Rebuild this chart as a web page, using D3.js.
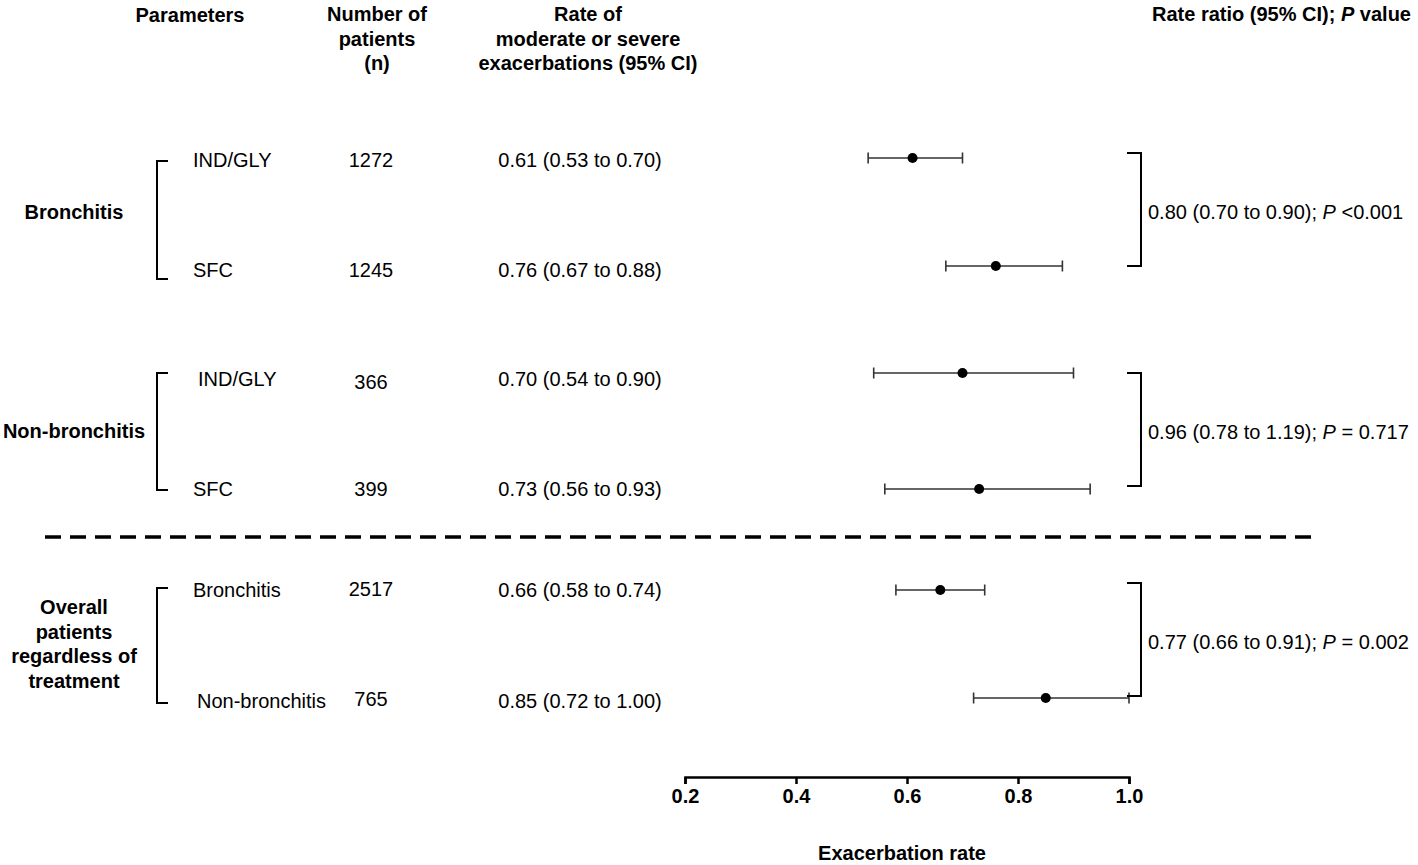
<!DOCTYPE html>
<html>
<head>
<meta charset="utf-8">
<script src="https://cdn.jsdelivr.net/npm/d3@7"></script>
<style>
  html, body { margin: 0; padding: 0; background: #fff; }
  svg { display: block; }
  text { font-family: "Liberation Sans", Arial, Helvetica, sans-serif; fill: #000; }
</style>
</head>
<body>
<svg id="chart" width="1418" height="865"></svg>
<script>
// ---------------- data ----------------
const headers = ["Parameters", "Number of patients (n)", "Rate of moderate or severe exacerbations (95% CI)", "Rate ratio (95% CI); P value"];
const groups = ["Bronchitis", "Non-bronchitis", "Overall patients regardless of treatment"];
const subgroups = ["IND/GLY", "SFC", "IND/GLY", "SFC", "Bronchitis", "Non-bronchitis"];
const patients = [1272, 1245, 366, 399, 2517, 765];
const rates = [0.61, 0.76, 0.70, 0.73, 0.66, 0.85];
const lower = [0.53, 0.67, 0.54, 0.56, 0.58, 0.72];
const upper = [0.70, 0.88, 0.90, 0.93, 0.74, 1.00];
const ratios = [0.80, 0.96, 0.77];
const ratioLower = [0.70, 0.78, 0.66];
const ratioUpper = [0.90, 1.19, 0.91];
const pValues = ["<0.001", "= 0.717", "= 0.002"];
const xTicks = [0.2, 0.4, 0.6, 0.8, 1.0];
const xLabel = "Exacerbation rate";

// ---------------- layout ----------------
const svg = d3.select("#chart");
const f2 = d3.format(".2f");
const x = d3.scaleLinear().domain([0.2, 1.0]).range([685, 1129]);
const rowY = d3.scaleOrdinal().domain(d3.range(6)).range([158, 266, 373, 489, 590, 698]);
const labelY = d3.scaleOrdinal().domain(d3.range(6)).range([160, 270, 379, 489, 590, 701]);
const countY = d3.scaleOrdinal().domain(d3.range(6)).range([160, 270, 382, 489, 589, 699]);
const labelX = [193, 193, 198, 193, 193, 197];
const groupRows = [[0, 1], [2, 3], [4, 5]];
const FS = 20;

// headers
function multiline(xc, lines, y0, lh, anchor) {
  const t = svg.append("text").attr("x", xc).attr("y", y0)
    .attr("text-anchor", anchor || "middle")
    .attr("font-size", FS).attr("font-weight", "bold");
  lines.forEach((l, i) => t.append("tspan").attr("x", xc).attr("y", y0 + i * lh).text(l));
  return t;
}
multiline(190, [headers[0]], 22, 24.5);
multiline(377, ["Number of", "patients", "(n)"], 21, 24.5);
multiline(588, ["Rate of", "moderate or severe", "exacerbations (95% CI)"], 21, 24.5);
{
  const t = svg.append("text").attr("x", 1411).attr("y", 21).attr("text-anchor", "end")
    .attr("font-size", FS).attr("font-weight", "bold");
  t.append("tspan").text("Rate ratio (95% CI); ");
  t.append("tspan").attr("font-style", "italic").text("P");
  t.append("tspan").text(" value");
}

// group labels
const groupLines = [["Bronchitis"], ["Non-bronchitis"], ["Overall", "patients", "regardless of", "treatment"]];
groupLines.forEach((lines, g) => {
  const rows = groupRows[g];
  const mid = (rowY(rows[0]) + rowY(rows[1])) / 2;
  const lh = 24.5;
  const y0 = mid + 7 - (lines.length - 1) * lh / 2;
  multiline(74, lines, y0, lh);
});

// left brackets
const leftBr = [[161, 279], [373, 490], [588, 703]];
leftBr.forEach(([a, b]) => {
  svg.append("path")
    .attr("d", `M168,${a}H157V${b}H168`)
    .attr("fill", "none").attr("stroke", "#000").attr("stroke-width", 2);
});

// subgroup labels, counts, rate text
const rowsIdx = d3.range(6);
svg.selectAll("text.sub").data(rowsIdx).join("text").attr("class", "sub")
  .attr("x", i => labelX[i]).attr("y", i => labelY(i)).attr("dy", "0.35em")
  .attr("font-size", FS).text(i => subgroups[i]);
svg.selectAll("text.cnt").data(rowsIdx).join("text").attr("class", "cnt")
  .attr("x", 371).attr("y", i => countY(i)).attr("dy", "0.35em")
  .attr("text-anchor", "middle").attr("font-size", FS).text(i => patients[i]);
svg.selectAll("text.rate").data(rowsIdx).join("text").attr("class", "rate")
  .attr("x", 580).attr("y", i => labelY(i)).attr("dy", "0.35em")
  .attr("text-anchor", "middle").attr("font-size", FS)
  .text(i => `${f2(rates[i])} (${f2(lower[i])} to ${f2(upper[i])})`);

// dashed separator
svg.append("line").attr("x1", 45).attr("x2", 1312).attr("y1", 537).attr("y2", 537)
  .attr("stroke", "#000").attr("stroke-width", 3.5).attr("stroke-dasharray", "16,9");

// CI whiskers
const ci = svg.append("g");
ci.selectAll("line.ci").data(rowsIdx).join("line").attr("class", "ci")
  .attr("x1", i => x(lower[i])).attr("x2", i => x(upper[i]))
  .attr("y1", i => rowY(i)).attr("y2", i => rowY(i))
  .attr("stroke", "#333").attr("stroke-width", 1.6);
ci.selectAll("line.capL").data(rowsIdx).join("line")
  .attr("x1", i => x(lower[i])).attr("x2", i => x(lower[i]))
  .attr("y1", i => rowY(i) - 5.5).attr("y2", i => rowY(i) + 5.5)
  .attr("stroke", "#333").attr("stroke-width", 1.6);
ci.selectAll("line.capR").data(rowsIdx).join("line")
  .attr("x1", i => x(upper[i])).attr("x2", i => x(upper[i]))
  .attr("y1", i => rowY(i) - 5.5).attr("y2", i => rowY(i) + 5.5)
  .attr("stroke", "#333").attr("stroke-width", 1.6);
ci.selectAll("circle").data(rowsIdx).join("circle")
  .attr("cx", i => x(rates[i])).attr("cy", i => rowY(i)).attr("r", 5)
  .attr("fill", "#000");

// right brackets + ratio text
const rightBr = [[153, 266], [373, 486], [583, 696]];
rightBr.forEach(([a, b], g) => {
  svg.append("path")
    .attr("d", `M1127,${a}H1141V${b}H1127`)
    .attr("fill", "none").attr("stroke", "#000").attr("stroke-width", 2);
  const t = svg.append("text").attr("x", 1148).attr("y", (a + b) / 2 + 2).attr("dy", "0.35em")
    .attr("font-size", FS);
  t.append("tspan").text(`${f2(ratios[g])} (${f2(ratioLower[g])} to ${f2(ratioUpper[g])}); `);
  t.append("tspan").attr("font-style", "italic").text("P");
  t.append("tspan").text(" " + pValues[g]);
});

// x axis
const axis = d3.axisBottom(x).tickValues(xTicks).tickFormat(d3.format(".1f")).tickSize(7).tickPadding(5);
const gx = svg.append("g").attr("transform", "translate(0,777)").call(axis);
gx.select(".domain").attr("stroke", "#000").attr("stroke-width", 2.5);
gx.selectAll(".tick line").attr("stroke", "#000").attr("stroke-width", 2.5);
gx.selectAll(".tick text").attr("font-size", FS).attr("font-weight", "bold")
  .attr("font-family", "'Liberation Sans', Arial, sans-serif").attr("fill", "#000");

svg.append("text").attr("x", 902).attr("y", 860).attr("text-anchor", "middle")
  .attr("font-size", FS).attr("font-weight", "bold").text(xLabel);
</script>
</body>
</html>
